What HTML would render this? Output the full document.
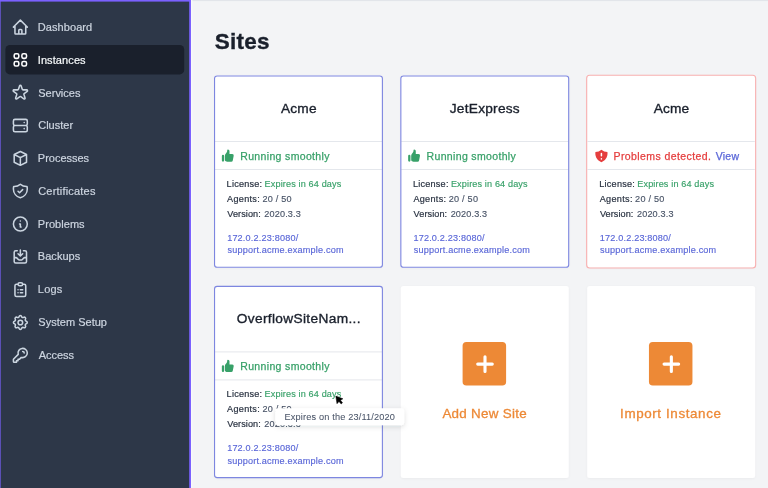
<!DOCTYPE html>
<html lang="en">
<head>
<meta charset="utf-8">
<title>Sites</title>
<style>
*{box-sizing:border-box;margin:0;padding:0}
html,body{width:768px;height:488px;overflow:hidden}
body{background:#f3f4f6;font-family:"Liberation Sans", Arial, sans-serif;position:relative}
svg.l{position:absolute;left:0;top:0;width:768px;height:488px;display:block}
.t{position:absolute;white-space:pre;display:block;font-weight:400;font-family:inherit;background:none;border:0;text-decoration:none}
</style>
</head>
<body>
<svg class="l" viewBox="0 0 768 488">
<defs>
<filter id="sh" x="-10%" y="-10%" width="120%" height="120%"><feDropShadow dx="0" dy="0.6" stdDeviation="0.9" flood-color="#000" flood-opacity="0.045"/></filter>
<filter id="tip" x="-20%" y="-80%" width="140%" height="260%"><feDropShadow dx="0" dy="1.5" stdDeviation="2.6" flood-color="#1a202c" flood-opacity="0.14"/></filter>
</defs>
<rect x="0" y="0" width="191" height="488" fill="#2d3748"/>
<rect x="191" y="0" width="577" height="1.1" fill="#e2e5ea"/>
<rect x="191" y="0" width="1.4" height="488" fill="#f8f9fa"/>
<rect x="0" y="0" width="191" height="1.6" fill="#7b61ff"/>
<rect x="0" y="0" width="0.6" height="488" fill="#7b61ff"/>
<rect x="189.2" y="0" width="1.8" height="488" fill="#7b61ff"/>
<rect x="5.4" y="45" width="178.8" height="29.4" rx="4.5" fill="#1a202c"/>
<g transform="translate(11.10 17.85) scale(0.7708)" fill="none" stroke="#cbd5e0" stroke-width="2" stroke-linecap="round" stroke-linejoin="round"><path d="M3 12l2-2m0 0l7-7 7 7M5 10v10a1 1 0 001 1h3m10-11l2 2m-2-2v10a1 1 0 01-1 1h-3m-6 0a1 1 0 001-1v-4a1 1 0 011-1h2a1 1 0 011 1v4a1 1 0 001 1m-6 0h6"/></g>
<g transform="translate(11.10 50.67) scale(0.7708)" fill="none" stroke="#ffffff" stroke-width="2" stroke-linecap="round" stroke-linejoin="round"><path d="M4 6a2 2 0 012-2h2a2 2 0 012 2v2a2 2 0 01-2 2H6a2 2 0 01-2-2V6zM14 6a2 2 0 012-2h2a2 2 0 012 2v2a2 2 0 01-2 2h-2a2 2 0 01-2-2V6zM4 16a2 2 0 012-2h2a2 2 0 012 2v2a2 2 0 01-2 2H6a2 2 0 01-2-2v-2zM14 16a2 2 0 012-2h2a2 2 0 012 2v2a2 2 0 01-2 2h-2a2 2 0 01-2-2v-2z"/></g>
<g transform="translate(11.10 83.49) scale(0.7708)" fill="none" stroke="#cbd5e0" stroke-width="2" stroke-linecap="round" stroke-linejoin="round"><path d="M11.049 2.927c.3-.921 1.603-.921 1.902 0l1.519 4.674a1 1 0 00.95.69h4.915c.969 0 1.371 1.240.588 1.810l-3.976 2.888a1 1 0 00-.363 1.118l1.518 4.674c.3.922-.755 1.688-1.538 1.118l-3.976-2.888a1 1 0 00-1.176 0l-3.976 2.888c-.783.570-1.838-.197-1.538-1.118l1.518-4.674a1 1 0 00-.363-1.118l-3.976-2.888c-.784-.570-.380-1.810.588-1.810h4.914a1 1 0 00.951-.690l1.519-4.674z"/></g>
<g transform="translate(11.10 116.31) scale(0.7708)" fill="none" stroke="#cbd5e0" stroke-width="2" stroke-linecap="round" stroke-linejoin="round"><path d="M5 12h14M5 12a2 2 0 01-2-2V6a2 2 0 012-2h14a2 2 0 012 2v4a2 2 0 01-2 2M5 12a2 2 0 00-2 2v4a2 2 0 002 2h14a2 2 0 002-2v-4a2 2 0 00-2-2m-2-4h.01M17 16h.01"/></g>
<g transform="translate(11.10 149.13) scale(0.7708)" fill="none" stroke="#cbd5e0" stroke-width="2" stroke-linecap="round" stroke-linejoin="round"><path d="M20 7l-8-4-8 4m16 0l-8 4m8-4v10l-8 4m0-10L4 7m8 4v10M4 7v10l8 4"/></g>
<g transform="translate(11.10 181.95) scale(0.7708)" fill="none" stroke="#cbd5e0" stroke-width="2" stroke-linecap="round" stroke-linejoin="round"><path d="M9 12l2 2 4-4m5.618-4.016A11.955 11.955 0 0112 2.944a11.955 11.955 0 01-8.618 3.040A12.020 12.020 0 003 9c0 5.591 3.824 10.290 9 11.622 5.176-1.332 9-6.030 9-11.622 0-1.042-.133-2.052-.382-3.016z"/></g>
<g transform="translate(11.10 214.77) scale(0.7708)" fill="none" stroke="#cbd5e0" stroke-width="2" stroke-linecap="round" stroke-linejoin="round"><path d="M13 16h-1v-4h-1m1-4h.01M21 12a9 9 0 11-18 0 9 9 0 0118 0z"/></g>
<g transform="translate(11.10 247.59) scale(0.7708)" fill="none" stroke="#cbd5e0" stroke-width="2" stroke-linecap="round" stroke-linejoin="round"><path d="M8 4H6a2 2 0 00-2 2v12a2 2 0 002 2h12a2 2 0 002-2V6a2 2 0 00-2-2h-2m-4-1v8m0 0l3-3m-3 3L9 8m-5 5h2.586a1 1 0 01.707.293l2.414 2.414a1 1 0 00.707.293h3.172a1 1 0 00.707-.293l2.414-2.414a1 1 0 01.707-.293H20"/></g>
<g transform="translate(11.10 280.41) scale(0.7708)" fill="none" stroke="#cbd5e0" stroke-width="2" stroke-linecap="round" stroke-linejoin="round"><path d="M9 5H7a2 2 0 00-2 2v12a2 2 0 002 2h10a2 2 0 002-2V7a2 2 0 00-2-2h-2M9 5a2 2 0 002 2h2a2 2 0 002-2M9 5a2 2 0 012-2h2a2 2 0 012 2m-3 7h3m-3 4h3m-6-4h.01M9 16h.01"/></g>
<g transform="translate(11.10 313.23) scale(0.7708)" fill="none" stroke="#cbd5e0" stroke-width="2" stroke-linecap="round" stroke-linejoin="round"><path d="M10.325 4.317c.426-1.756 2.924-1.756 3.350 0a1.724 1.724 0 002.573 1.066c1.543-.940 3.310.826 2.370 2.370a1.724 1.724 0 001.065 2.572c1.756.426 1.756 2.924 0 3.350a1.724 1.724 0 00-1.066 2.573c.940 1.543-.826 3.310-2.370 2.370a1.724 1.724 0 00-2.572 1.065c-.426 1.756-2.924 1.756-3.350 0a1.724 1.724 0 00-2.573-1.066c-1.543.940-3.310-.826-2.370-2.370a1.724 1.724 0 00-1.065-2.572c-1.756-.426-1.756-2.924 0-3.350a1.724 1.724 0 001.066-2.573c-.940-1.543.826-3.310 2.370-2.370.996.608 2.296.070 2.572-1.065z"/><path d="M15 12a3 3 0 11-6 0 3 3 0 016 0z"/></g>
<g transform="translate(11.10 346.05) scale(0.7708)" fill="none" stroke="#cbd5e0" stroke-width="2" stroke-linecap="round" stroke-linejoin="round"><path d="M15 7a2 2 0 012 2m4 0a6 6 0 01-7.743 5.743L11 17H9v2H7v2H4a1 1 0 01-1-1v-2.586a1 1 0 01.293-.707l5.964-5.964A6 6 0 1121 9z"/></g>
<rect x="214.55" y="75.6" width="167.9" height="192.0" rx="2.5" fill="#fff" filter="url(#sh)"/>
<rect x="214.85" y="141.00" width="167.30" height="1" fill="#e4e7ec"/>
<rect x="214.85" y="169.00" width="167.30" height="1" fill="#e4e7ec"/>
<rect x="214.55" y="75.95" width="167.85" height="191.30" rx="2.6" fill="none" stroke="#7d86e0" stroke-width="1.1"/>
<g transform="translate(220.33 147.90) scale(0.7625)" fill="#38a169"><path d="M2 10.500a1.500 1.500 0 113 0v6a1.500 1.500 0 01-3 0v-6zM6 10.333v5.430a2 2 0 001.106 1.790l.05.025A4 4 0 008.943 18h5.416a2 2 0 001.962-1.608l1.200-6A2 2 0 0015.560 8H12V4a2 2 0 00-2-2 1 1 0 00-1 1v.667a4 4 0 01-.8 2.400L6.800 7.933a4 4 0 00-.8 2.400z"/></g>
<rect x="400.85" y="75.6" width="167.9" height="192.0" rx="2.5" fill="#fff" filter="url(#sh)"/>
<rect x="401.15" y="141.00" width="167.30" height="1" fill="#e4e7ec"/>
<rect x="401.15" y="169.00" width="167.30" height="1" fill="#e4e7ec"/>
<rect x="400.85" y="75.95" width="167.85" height="191.30" rx="2.6" fill="none" stroke="#7d86e0" stroke-width="1.1"/>
<g transform="translate(406.63 147.90) scale(0.7625)" fill="#38a169"><path d="M2 10.500a1.500 1.500 0 113 0v6a1.500 1.500 0 01-3 0v-6zM6 10.333v5.430a2 2 0 001.106 1.790l.05.025A4 4 0 008.943 18h5.416a2 2 0 001.962-1.608l1.200-6A2 2 0 0015.560 8H12V4a2 2 0 00-2-2 1 1 0 00-1 1v.667a4 4 0 01-.8 2.400L6.800 7.933a4 4 0 00-.8 2.400z"/></g>
<rect x="587.2" y="75.6" width="167.9" height="192.0" rx="2.5" fill="#fff" filter="url(#sh)"/>
<rect x="587.50" y="141.00" width="167.30" height="1" fill="#e4e7ec"/>
<rect x="587.50" y="169.00" width="167.30" height="1" fill="#e4e7ec"/>
<rect x="586.65" y="75.30" width="169.00" height="192.70" rx="3" fill="none" stroke="#f9b1b1" stroke-width="1.1"/>
<g transform="translate(593.80 148.20) scale(0.7625)" fill="#e53e3e"><path fill-rule="evenodd" d="M10 1.944A11.954 11.954 0 012.166 5C2.056 5.649 2 6.319 2 7c0 5.225 3.340 9.670 8 11.317C14.660 16.670 18 12.225 18 7c0-.682-.057-1.350-.166-2.001A11.954 11.954 0 0110 1.944zM11 14a1 1 0 11-2 0 1 1 0 012 0zm0-7a1 1 0 10-2 0v3a1 1 0 102 0V7z"/></g>
<rect x="214.55" y="286.0" width="167.9" height="192.0" rx="2.5" fill="#fff" filter="url(#sh)"/>
<rect x="214.85" y="351.40" width="167.30" height="1" fill="#e4e7ec"/>
<rect x="214.85" y="379.40" width="167.30" height="1" fill="#e4e7ec"/>
<rect x="214.55" y="286.35" width="167.85" height="191.30" rx="2.6" fill="none" stroke="#7d86e0" stroke-width="1.1"/>
<g transform="translate(220.33 358.30) scale(0.7625)" fill="#38a169"><path d="M2 10.500a1.500 1.500 0 113 0v6a1.500 1.500 0 01-3 0v-6zM6 10.333v5.430a2 2 0 001.106 1.790l.05.025A4 4 0 008.943 18h5.416a2 2 0 001.962-1.608l1.200-6A2 2 0 0015.560 8H12V4a2 2 0 00-2-2 1 1 0 00-1 1v.667a4 4 0 01-.8 2.400L6.800 7.933a4 4 0 00-.8 2.400z"/></g>
<rect x="400.85" y="286.0" width="167.9" height="192.0" rx="2.5" fill="#fff" filter="url(#sh)"/>
<rect x="462.60" y="342.00" width="43.5" height="43.5" rx="3.8" fill="#ed8936"/>
<path d="M477.70 364.10h14.6M485.00 356.80v14.6" stroke="#fff" stroke-width="3.1" stroke-linecap="round" fill="none"/>
<rect x="587.2" y="286.0" width="167.9" height="192.0" rx="2.5" fill="#fff" filter="url(#sh)"/>
<rect x="648.95" y="342.00" width="43.5" height="43.5" rx="3.8" fill="#ed8936"/>
<path d="M664.05 364.10h14.6M671.35 356.80v14.6" stroke="#fff" stroke-width="3.1" stroke-linecap="round" fill="none"/>
</svg>
<nav>
<a class="t" style="left:37.85px;top:16px;font-size:11px;line-height:22px;color:#cdd5e0;letter-spacing:0.069px;-webkit-text-stroke:0.2px #cdd5e0">Dashboard</a>
<a class="t" style="left:37.75px;top:49px;font-size:11px;line-height:22px;color:#f7fafc;letter-spacing:0.096px;-webkit-text-stroke:0.2px #f7fafc">Instances</a>
<a class="t" style="left:38.30px;top:82px;font-size:11px;line-height:22px;color:#cdd5e0;letter-spacing:-0.011px;-webkit-text-stroke:0.2px #cdd5e0">Services</a>
<a class="t" style="left:38.20px;top:114px;font-size:11px;line-height:22px;color:#cdd5e0;letter-spacing:0.012px;-webkit-text-stroke:0.2px #cdd5e0">Cluster</a>
<a class="t" style="left:37.85px;top:147px;font-size:11px;line-height:22px;color:#cdd5e0;letter-spacing:-0.013px;-webkit-text-stroke:0.2px #cdd5e0">Processes</a>
<a class="t" style="left:38.20px;top:180px;font-size:11px;line-height:22px;color:#cdd5e0;letter-spacing:0.199px;-webkit-text-stroke:0.2px #cdd5e0">Certificates</a>
<a class="t" style="left:37.85px;top:213px;font-size:11px;line-height:22px;color:#cdd5e0;letter-spacing:0.041px;-webkit-text-stroke:0.2px #cdd5e0">Problems</a>
<a class="t" style="left:37.85px;top:245px;font-size:11px;line-height:22px;color:#cdd5e0;letter-spacing:0.027px;-webkit-text-stroke:0.2px #cdd5e0">Backups</a>
<a class="t" style="left:37.85px;top:278px;font-size:11px;line-height:22px;color:#cdd5e0;letter-spacing:0.199px;-webkit-text-stroke:0.2px #cdd5e0">Logs</a>
<a class="t" style="left:38.30px;top:311px;font-size:11px;line-height:22px;color:#cdd5e0;letter-spacing:0.017px;-webkit-text-stroke:0.2px #cdd5e0">System Setup</a>
<a class="t" style="left:38.75px;top:344px;font-size:11px;line-height:22px;color:#cdd5e0;letter-spacing:-0.061px;-webkit-text-stroke:0.2px #cdd5e0">Access</a>
</nav>
<main>
<h1 class="t" style="left:214.65px;top:24px;font-size:22.5px;line-height:35px;color:#1a202c;letter-spacing:0.284px;font-weight:700;-webkit-text-stroke:0.35px #1a202c">Sites</h1>
<section>
<article class="card">
<h2 class="t" style="left:281.00px;top:96px;font-size:13.7px;line-height:25px;color:#1a202c;letter-spacing:0.195px;-webkit-text-stroke:0.36px #1a202c">Acme</h2>
<span class="t" style="left:240.25px;top:145px;font-size:10.5px;line-height:22px;color:#38a169;letter-spacing:0.344px;-webkit-text-stroke:0.25px #38a169">Running smoothly</span>
<span class="t" style="left:226.60px;top:174px;font-size:9.1px;line-height:20px;color:#2a3342;letter-spacing:0.241px;-webkit-text-stroke:0.2px #2a3342">License:</span>
<span class="t" style="left:264.60px;top:174px;font-size:9.1px;line-height:20px;color:#38a169;letter-spacing:0.141px;-webkit-text-stroke:0.15px #38a169">Expires in 64 days</span>
<span class="t" style="left:227.10px;top:189px;font-size:9.1px;line-height:20px;color:#2a3342;letter-spacing:0.303px;-webkit-text-stroke:0.2px #2a3342">Agents:</span>
<span class="t" style="left:262.45px;top:189px;font-size:9.1px;line-height:20px;color:#4a5568;letter-spacing:0.230px;-webkit-text-stroke:0.15px #4a5568">20 / 50</span>
<span class="t" style="left:227.30px;top:204px;font-size:9.1px;line-height:20px;color:#2a3342;letter-spacing:0.085px;-webkit-text-stroke:0.2px #2a3342">Version:</span>
<span class="t" style="left:264.35px;top:204px;font-size:9.1px;line-height:20px;color:#4a5568;letter-spacing:0.148px;-webkit-text-stroke:0.15px #4a5568">2020.3.3</span>
<a class="t" style="left:227.15px;top:228px;font-size:9.1px;line-height:20px;color:#5a67d8;letter-spacing:0.184px;-webkit-text-stroke:0.15px #5a67d8">172.0.2.23:8080/</a>
<a class="t" style="left:227.45px;top:240px;font-size:9.1px;line-height:20px;color:#5a67d8;letter-spacing:0.191px;-webkit-text-stroke:0.15px #5a67d8">support.acme.example.com</a>
</article>
<article class="card">
<h2 class="t" style="left:449.79px;top:96px;font-size:13.7px;line-height:25px;color:#1a202c;letter-spacing:0.248px;-webkit-text-stroke:0.36px #1a202c">JetExpress</h2>
<span class="t" style="left:426.55px;top:145px;font-size:10.5px;line-height:22px;color:#38a169;letter-spacing:0.344px;-webkit-text-stroke:0.25px #38a169">Running smoothly</span>
<span class="t" style="left:412.90px;top:174px;font-size:9.1px;line-height:20px;color:#2a3342;letter-spacing:0.241px;-webkit-text-stroke:0.2px #2a3342">License:</span>
<span class="t" style="left:450.90px;top:174px;font-size:9.1px;line-height:20px;color:#38a169;letter-spacing:0.141px;-webkit-text-stroke:0.15px #38a169">Expires in 64 days</span>
<span class="t" style="left:413.40px;top:189px;font-size:9.1px;line-height:20px;color:#2a3342;letter-spacing:0.303px;-webkit-text-stroke:0.2px #2a3342">Agents:</span>
<span class="t" style="left:448.75px;top:189px;font-size:9.1px;line-height:20px;color:#4a5568;letter-spacing:0.230px;-webkit-text-stroke:0.15px #4a5568">20 / 50</span>
<span class="t" style="left:413.60px;top:204px;font-size:9.1px;line-height:20px;color:#2a3342;letter-spacing:0.085px;-webkit-text-stroke:0.2px #2a3342">Version:</span>
<span class="t" style="left:450.65px;top:204px;font-size:9.1px;line-height:20px;color:#4a5568;letter-spacing:0.148px;-webkit-text-stroke:0.15px #4a5568">2020.3.3</span>
<a class="t" style="left:413.45px;top:228px;font-size:9.1px;line-height:20px;color:#5a67d8;letter-spacing:0.184px;-webkit-text-stroke:0.15px #5a67d8">172.0.2.23:8080/</a>
<a class="t" style="left:413.75px;top:240px;font-size:9.1px;line-height:20px;color:#5a67d8;letter-spacing:0.191px;-webkit-text-stroke:0.15px #5a67d8">support.acme.example.com</a>
</article>
<article class="card">
<h2 class="t" style="left:653.65px;top:96px;font-size:13.7px;line-height:25px;color:#1a202c;letter-spacing:0.195px;-webkit-text-stroke:0.36px #1a202c">Acme</h2>
<span class="t" style="left:613.55px;top:145px;font-size:10.5px;line-height:22px;color:#e53e3e;letter-spacing:0.409px;-webkit-text-stroke:0.25px #e53e3e">Problems detected.</span>
<a class="t" style="left:715.80px;top:145px;font-size:10.5px;line-height:22px;color:#5a67d8;letter-spacing:0.205px;-webkit-text-stroke:0.25px #5a67d8">View</a>
<span class="t" style="left:599.25px;top:174px;font-size:9.1px;line-height:20px;color:#2a3342;letter-spacing:0.241px;-webkit-text-stroke:0.2px #2a3342">License:</span>
<span class="t" style="left:637.25px;top:174px;font-size:9.1px;line-height:20px;color:#38a169;letter-spacing:0.141px;-webkit-text-stroke:0.15px #38a169">Expires in 64 days</span>
<span class="t" style="left:599.75px;top:189px;font-size:9.1px;line-height:20px;color:#2a3342;letter-spacing:0.303px;-webkit-text-stroke:0.2px #2a3342">Agents:</span>
<span class="t" style="left:635.10px;top:189px;font-size:9.1px;line-height:20px;color:#4a5568;letter-spacing:0.230px;-webkit-text-stroke:0.15px #4a5568">20 / 50</span>
<span class="t" style="left:599.95px;top:204px;font-size:9.1px;line-height:20px;color:#2a3342;letter-spacing:0.085px;-webkit-text-stroke:0.2px #2a3342">Version:</span>
<span class="t" style="left:637.00px;top:204px;font-size:9.1px;line-height:20px;color:#4a5568;letter-spacing:0.148px;-webkit-text-stroke:0.15px #4a5568">2020.3.3</span>
<a class="t" style="left:599.80px;top:228px;font-size:9.1px;line-height:20px;color:#5a67d8;letter-spacing:0.184px;-webkit-text-stroke:0.15px #5a67d8">172.0.2.23:8080/</a>
<a class="t" style="left:600.10px;top:240px;font-size:9.1px;line-height:20px;color:#5a67d8;letter-spacing:0.191px;-webkit-text-stroke:0.15px #5a67d8">support.acme.example.com</a>
</article>
<article class="card">
<h2 class="t" style="left:236.76px;top:306px;font-size:13.7px;line-height:25px;color:#1a202c;letter-spacing:0.343px;-webkit-text-stroke:0.36px #1a202c">OverflowSiteNam...</h2>
<span class="t" style="left:240.25px;top:355px;font-size:10.5px;line-height:22px;color:#38a169;letter-spacing:0.344px;-webkit-text-stroke:0.25px #38a169">Running smoothly</span>
<span class="t" style="left:226.60px;top:384px;font-size:9.1px;line-height:20px;color:#2a3342;letter-spacing:0.241px;-webkit-text-stroke:0.2px #2a3342">License:</span>
<span class="t" style="left:264.60px;top:384px;font-size:9.1px;line-height:20px;color:#38a169;letter-spacing:0.141px;-webkit-text-stroke:0.15px #38a169">Expires in 64 days</span>
<span class="t" style="left:227.10px;top:399px;font-size:9.1px;line-height:20px;color:#2a3342;letter-spacing:0.303px;-webkit-text-stroke:0.2px #2a3342">Agents:</span>
<span class="t" style="left:262.45px;top:399px;font-size:9.1px;line-height:20px;color:#4a5568;letter-spacing:0.230px;-webkit-text-stroke:0.15px #4a5568">20 / 50</span>
<span class="t" style="left:227.30px;top:414px;font-size:9.1px;line-height:20px;color:#2a3342;letter-spacing:0.085px;-webkit-text-stroke:0.2px #2a3342">Version:</span>
<span class="t" style="left:264.35px;top:414px;font-size:9.1px;line-height:20px;color:#4a5568;letter-spacing:0.148px;-webkit-text-stroke:0.15px #4a5568">2020.3.3</span>
<a class="t" style="left:227.15px;top:438px;font-size:9.1px;line-height:20px;color:#5a67d8;letter-spacing:0.184px;-webkit-text-stroke:0.15px #5a67d8">172.0.2.23:8080/</a>
<a class="t" style="left:227.45px;top:451px;font-size:9.1px;line-height:20px;color:#5a67d8;letter-spacing:0.191px;-webkit-text-stroke:0.15px #5a67d8">support.acme.example.com</a>
</article>
<article class="card"><button class="t" style="left:442.40px;top:401px;font-size:13.4px;line-height:25px;color:#ed8936;letter-spacing:0.283px;-webkit-text-stroke:0.3px #ed8936">Add New Site</button></article>
<article class="card"><button class="t" style="left:620.05px;top:401px;font-size:13.4px;line-height:25px;color:#ed8936;letter-spacing:0.613px;-webkit-text-stroke:0.3px #ed8936">Import Instance</button></article>
</section>
</main>
<svg class="l" viewBox="0 0 768 488">
<rect x="275.2" y="408.2" width="128.9" height="17.1" rx="3" fill="#fff" filter="url(#tip)"/>
</svg>
<div role="tooltip"><span class="t" style="left:284.55px;top:407px;font-size:9.2px;line-height:20px;color:#4a5568;letter-spacing:0.154px;-webkit-text-stroke:0.05px #4a5568">Expires on the 23/11/2020</span></div>
<svg class="l" viewBox="0 0 768 488">
<g transform="translate(335.8 396.1)"><path d="M0 0L7.100 2.700 4.700 4.200 6.700 6.700 5.400 7.900 3.200 5.400 1.200 7.600z" fill="#fff" stroke="#fff" stroke-width="1.7" stroke-linejoin="round" opacity="0.9"/><path d="M0 0L7.100 2.700 4.700 4.200 6.700 6.700 5.400 7.900 3.200 5.400 1.200 7.600z" fill="#000" stroke="#000" stroke-width="0.5" stroke-linejoin="round"/></g>
</svg>
</body>
</html>
